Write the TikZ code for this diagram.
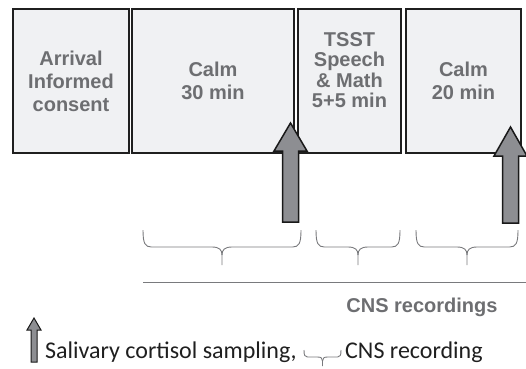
\documentclass[tikz,border=0pt]{standalone}
\usepackage{fontspec}
\setmainfont{Liberation Sans}[BoldFont={Liberation Sans Bold}]
\newfontfamily\legendfont{Carlito}

\definecolor{boxfill}{HTML}{F0F1F3}
\definecolor{boxtext}{HTML}{6D6E71}
\definecolor{samplefill}{HTML}{8D8E92}
\definecolor{bracegray}{HTML}{797A7D}

% curly bracket under a recording period: left x, right x, top y, bar y, tip y
\newcommand{\cnsbrace}[5]{%
  \pgfmathsetmacro{\bmid}{(#1+#2)/2}%
  \pgfmathsetmacro{\bcor}{(#4-#3)/2}%
  \pgfmathsetmacro{\btip}{(#5-#4)}%
  \draw[brace line] (#1,#3) .. controls (#1,#4-0.4*\bcor) and (#1+0.25*\bcor,#4) .. (#1+\bcor,#4)
    -- (\bmid-0.55*\btip,#4) .. controls (\bmid-0.15*\btip,#4) and (\bmid,#4+0.15*\btip) .. (\bmid,#4+0.45*\btip)
    -- (\bmid,#5);
  \draw[brace line] (#2,#3) .. controls (#2,#4-0.4*\bcor) and (#2-0.25*\bcor,#4) .. (#2-\bcor,#4)
    -- (\bmid+0.55*\btip,#4) .. controls (\bmid+0.15*\btip,#4) and (\bmid,#4+0.15*\btip) .. (\bmid,#4+0.45*\btip);
}
% block arrow for a saliva sample: x, tip y, head base y, bottom y, head half width, shaft half width
\newcommand{\cortisol}[7][]{%
  \draw[sample,#1] (#2,#3) -- (#2+#6,#4) -- (#2+#7,#4) -- (#2+#7,#5) -- (#2-#7,#5)
    -- (#2-#7,#4) -- (#2-#6,#4) -- cycle;
}

\begin{document}
\begin{tikzpicture}[
    x=1pt, y=-1pt,
    box/.style={
        draw=black!88,
        line width=1.6pt,
        fill=boxfill,
        minimum height=144pt,
        inner sep=0pt,
        align=center,
        text=boxtext,
        font=\bfseries\fontsize{20}{23}\selectfont
    },
    sample/.style={draw=black!90, line width=1.5pt, fill=samplefill},
    brace line/.style={draw=bracegray, line width=0.9pt},
    legend/.style={anchor=base west, inner sep=0pt, text=black!88,
        font=\legendfont\fontsize{24}{27}\selectfont}
]
    \useasboundingbox (0,0) rectangle (526,368);

    % procedure blocks
    \node[box, minimum width=116pt] (arrival) at (71,81) {Arrival\\Informed\\consent};
    \node[box, minimum width=162pt] (calm30) at (213,81) {Calm\\30 min};
    \node[box, minimum width=103pt, text depth=22pt,
        font=\bfseries\fontsize{20}{20.5}\selectfont] (tsst) at (349.5,81) {TSST\\Speech\\\& Math\\5+5 min};
    \node[box, minimum width=115pt] (calm20) at (463.5,81) {Calm\\20 min};

    % cortisol samples
    \cortisol{290.5}{123}{151}{222}{16.5}{8}
    \cortisol{510.5}{127}{156}{223}{16.5}{8}

    % recording periods
    \cnsbrace{143}{301}{230}{247}{265}
    \cnsbrace{316}{400}{230}{247}{265}
    \cnsbrace{416}{518}{230}{247}{265}

    \draw[bracegray, line width=1pt] (143,282) -- (526,282);
    \node[text=boxtext, font=\bfseries\fontsize{20}{23}\selectfont] (cns) at (422,307) {CNS recordings};

    % legend
    \cortisol[line width=1pt]{34}{318}{330}{362}{7}{3}
    \node[legend] (saliva) at (45,358) {Salivary cortisol sampling,};
    \cnsbrace{304}{341}{350}{357}{366}
    \node[legend] (rec) at (345,358) {CNS recording};
\end{tikzpicture}
\end{document}
